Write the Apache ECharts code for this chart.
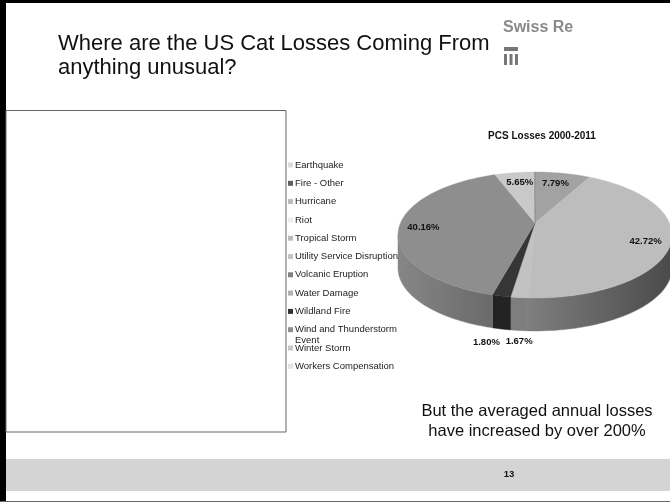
<!DOCTYPE html>
<html><head><meta charset="utf-8">
<style>html,body{margin:0;padding:0;background:#fff}#c{width:670px;height:502px}</style>
<script src="https://cdn.jsdelivr.net/npm/echarts@6/dist/echarts.min.js"></script>
</head><body><div id="c"></div>
<script>
const categories = ['Earthquake','Fire - Other','Hurricane','Riot','Tropical Storm','Utility Service Disruption','Volcanic Eruption','Water Damage','Wildland Fire','Wind and Thunderstorm','Winter Storm','Workers Compensation'];
const shares = [0.05,7.79,42.72,0.01,0.08,0.02,0.02,1.67,1.80,40.16,5.65,0.03];
const percentLabels = ['', '7.79%', '42.72%', '', '', '', '', '1.67%', '1.80%', '40.16%', '5.65%', ''];
const legendColors = ['#dcdcdc','#606060','#bdbdbd','#eeeeee','#bdbdbd','#c4c4c4','#808080','#b0b0b0','#333333','#8e8e8e','#c8c8c8','#e4e4e4'];
const sliceColors  = ['#777777','#a2a2a2','#bdbdbd','#c0c0c0','#c0c0c0','#c0c0c0','#c0c0c0','#c2c2c2','#363636','#8e8e8e','#c9c9c9','#777777'];
const sideLeft  = ['#555','#555','#7e7e7e','#7e7e7e','#7e7e7e','#7e7e7e','#7e7e7e','#7e7e7e','#232323','#868686','#888','#555'];
const sideRight = ['#555','#555','#4a4a4a','#7e7e7e','#7e7e7e','#7e7e7e','#7e7e7e','#7e7e7e','#232323','#6a6a6a','#888','#555'];
const labelOffsets = [[0,0],[-7.5,10],[-26,2],[0,0],[0,0],[0,0],[0,0],[0,44],[-15,46],[24,1],[5,10],[0,0]];

const CX = 535, CY = 223, SX = 134.5, SY = 60.7, K = 0.19, DEPTH = 33;
const TOTAL = shares.reduce((a, b) => a + b, 0);
const project = (t) => {
  const s = Math.sin(t), c = Math.cos(t), w = 1 + K * c;
  return [CX + SX * s / w, CY - SY * c / w];
};
const limit = Math.acos(-K);
const startFrac = i => shares.slice(0, i).reduce((a, b) => a + b, 0) / TOTAL;

function renderSlice(i) {
  const a0 = startFrac(i) * 2 * Math.PI, a1 = startFrac(i + 1) * 2 * Math.PI;
  const steps = Math.max(2, Math.ceil((a1 - a0) * 40));
  const arc = [];
  for (let n = 0; n <= steps; n++) arc.push(project(a0 + (a1 - a0) * n / steps));
  const children = [{
    type: 'polygon', z2: 10,
    shape: { points: [[CX, CY], ...arc] },
    style: { fill: sliceColors[i], stroke: sliceColors[i], lineWidth: 0.4 }
  }];
  const s0 = Math.max(a0, limit), s1 = Math.min(a1, 2 * Math.PI - limit);
  if (s1 > s0) {
    const pts = [];
    for (let n = 0; n <= 60; n++) pts.push(project(s0 + (s1 - s0) * n / 60));
    const low = pts.map(p => [p[0], p[1] + DEPTH]).reverse();
    const shade = () => new echarts.graphic.LinearGradient(0, 0, 1, 0, [
      { offset: 0, color: sideLeft[i] }, { offset: 1, color: sideRight[i] }
    ]);
    children.push({
      type: 'polygon', z2: 1,
      shape: { points: [...pts, ...low] },
      style: { fill: shade(), stroke: sideLeft[i], lineWidth: 0.5 }
    });
  }
  if (percentLabels[i]) {
    const p = project((a0 + a1) / 2);
    children.push({
      type: 'text', z2: 20,
      style: {
        x: p[0] + labelOffsets[i][0], y: p[1] + labelOffsets[i][1],
        text: percentLabels[i], fill: '#111', align: 'center', verticalAlign: 'middle',
        font: 'bold 9.5px "Liberation Sans"'
      }
    });
  }
  return { type: 'group', children };
}

const series = categories.map((name, i) => ({
  name, type: 'custom', coordinateSystem: 'none',
  itemStyle: { color: legendColors[i] },
  data: [shares[i]],
  silent: true, animation: false,
  renderItem: () => renderSlice(i)
}));

const txt = (x, y, text, font, fill, align) => ({
  type: 'text', x, y, z: 5,
  style: { text, font, fill, align: align || 'left', verticalAlign: 'middle' }
});
const bar = (x, y, w, h, fill) => ({ type: 'rect', shape: { x, y, width: w, height: h }, style: { fill } });

const chart = echarts.init(document.getElementById('c'), null, { renderer: 'canvas' });
chart.setOption({
  animation: false,
  backgroundColor: '#fff',
  title: {
    text: 'PCS Losses 2000-2011', left: 537, top: 126, textAlign: 'center',
    textStyle: { fontFamily: 'Liberation Sans', fontSize: 10, fontWeight: 'bold', color: '#111' }
  },
  legend: {
    orient: 'vertical', left: 283, top: 154.5, itemWidth: 5, itemHeight: 5, itemGap: 7.3,
    selectedMode: false, icon: 'rect', align: 'left',
    textStyle: { fontFamily: 'Liberation Sans', fontSize: 9.5, color: '#222', padding: [0, 0, 0, -3], height: 11, lineHeight: 11 },
    data: categories
  },
  graphic: [
    bar(0, 0, 670, 3, '#000'),
    bar(0, 0, 6, 502, '#000'),
    bar(0, 501, 670, 1, '#666'),
    bar(6, 459, 664, 32, '#d4d4d4'),
    { type: 'rect', shape: { x: 6, y: 110.5, width: 280, height: 321.5 }, style: { fill: '#fff', stroke: '#666', lineWidth: 1 } },
    txt(58, 44, 'Where are the US Cat Losses Coming From', '22px "Liberation Sans"', '#111'),
    txt(58, 68, 'anything unusual?', '22px "Liberation Sans"', '#111'),
    txt(503, 28, 'Swiss Re', 'bold 16px "Liberation Sans"', '#8a8a8a'),
    bar(504, 47, 14, 4, '#777'),
    bar(504, 54, 3, 11, '#777'), bar(509.5, 54, 3, 11, '#777'), bar(515, 54, 3, 11, '#777'),
    txt(295, 340, 'Event', '9.5px "Liberation Sans"', '#222'),
    txt(537, 411, 'But the averaged annual losses', '16.5px "Liberation Sans"', '#111', 'center'),
    txt(537, 431, 'have increased by over 200%', '16.5px "Liberation Sans"', '#111', 'center'),
    txt(509, 474, '13', 'bold 9.5px "Liberation Sans"', '#111', 'center')
  ],
  series
});
</script></body></html>
